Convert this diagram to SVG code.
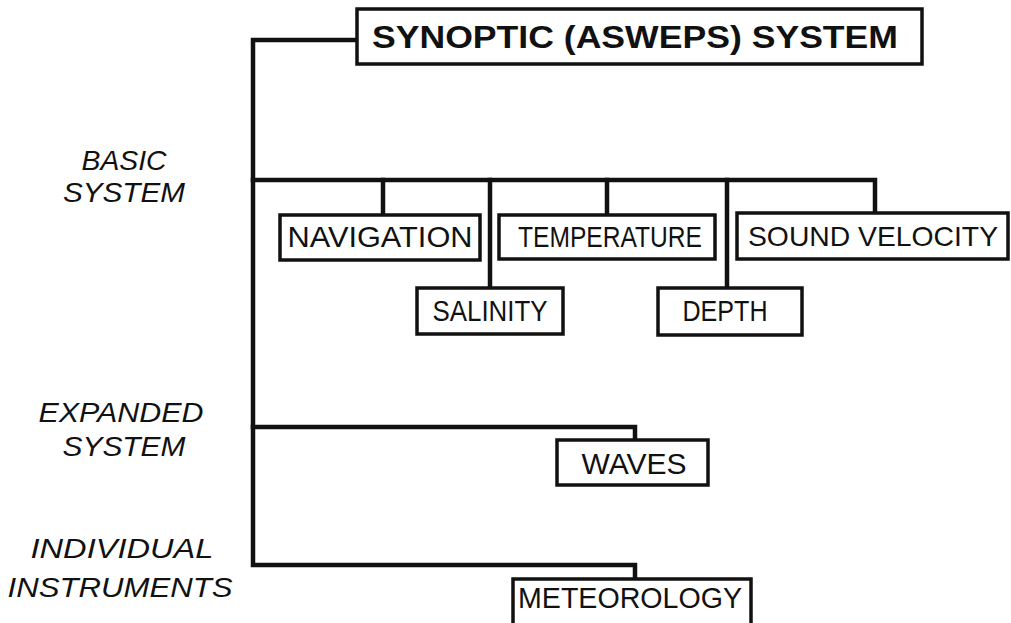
<svg xmlns="http://www.w3.org/2000/svg" width="1011" height="623" viewBox="0 0 1011 623">
<style>
.bg{fill:#ffffff}
.box{fill:#ffffff;stroke:#111;stroke-width:3.5}
.ln{fill:none;stroke:#111;stroke-width:4.5;stroke-linejoin:miter;stroke-linecap:square}
.lbl{font-family:"Liberation Sans",Arial,sans-serif;font-size:30px;fill:#111;text-anchor:middle}
.title{font-family:"Liberation Sans",Arial,sans-serif;font-size:32px;font-weight:bold;fill:#111;text-anchor:middle}
.side{font-family:"Liberation Sans",Arial,sans-serif;font-size:28px;font-style:italic;fill:#111;text-anchor:middle}
</style>
<rect class="bg" x="0" y="0" width="1011" height="623"/>
<g id="connectors">
<polyline class="ln" points="357,40 253,40 253,565 635,565 635,579"/>
<polyline class="ln" points="253,180 875,180 875,213"/>
<line class="ln" x1="383" y1="180" x2="383" y2="215"/>
<line class="ln" x1="490" y1="180" x2="490" y2="288"/>
<line class="ln" x1="607" y1="180" x2="607" y2="215"/>
<line class="ln" x1="727" y1="180" x2="727" y2="288"/>
<polyline class="ln" points="253,427 635,427 635,440"/>
</g>
<g id="side-labels">
<text class="side" x="124" y="170" textLength="85" lengthAdjust="spacingAndGlyphs">BASIC</text>
<text class="side" x="124" y="202" textLength="122" lengthAdjust="spacingAndGlyphs">SYSTEM</text>
<text class="side" x="121" y="422" textLength="165" lengthAdjust="spacingAndGlyphs">EXPANDED</text>
<text class="side" x="124" y="456" textLength="123" lengthAdjust="spacingAndGlyphs">SYSTEM</text>
<text class="side" x="122" y="558" textLength="183" lengthAdjust="spacingAndGlyphs">INDIVIDUAL</text>
<text class="side" x="120" y="597" textLength="225" lengthAdjust="spacingAndGlyphs">INSTRUMENTS</text>
</g>
<g id="node-title">
<rect class="box" x="357" y="9" width="565" height="55"/>
<text class="title" x="635" y="48" textLength="526" lengthAdjust="spacingAndGlyphs">SYNOPTIC  (ASWEPS)  SYSTEM</text>
</g>
<g id="node-navigation">
<rect class="box" x="280" y="215" width="200" height="45"/>
<text class="lbl" x="380" y="247" textLength="185" lengthAdjust="spacingAndGlyphs">NAVIGATION</text>
</g>
<g id="node-temperature">
<rect class="box" x="499" y="215" width="216" height="44"/>
<text class="lbl" x="610" y="247" textLength="184" lengthAdjust="spacingAndGlyphs">TEMPERATURE</text>
</g>
<g id="node-sound-velocity">
<rect class="box" x="737" y="213" width="271" height="46"/>
<text class="lbl" x="873" y="246" style="font-size:28.5px" textLength="250" lengthAdjust="spacingAndGlyphs">SOUND VELOCITY</text>
</g>
<g id="node-salinity">
<rect class="box" x="417" y="288" width="146" height="46"/>
<text class="lbl" x="490" y="321" textLength="115" lengthAdjust="spacingAndGlyphs">SALINITY</text>
</g>
<g id="node-depth">
<rect class="box" x="658" y="288" width="144" height="47"/>
<text class="lbl" x="725" y="321" textLength="85" lengthAdjust="spacingAndGlyphs">DEPTH</text>
</g>
<g id="node-waves">
<rect class="box" x="557" y="440" width="151" height="45"/>
<text class="lbl" x="634" y="474" textLength="105" lengthAdjust="spacingAndGlyphs">WAVES</text>
</g>
<g id="node-meteorology">
<rect class="box" x="513" y="579" width="238" height="52"/>
<text class="lbl" x="630" y="608" textLength="224" lengthAdjust="spacingAndGlyphs">METEOROLOGY</text>
</g>
</svg>
